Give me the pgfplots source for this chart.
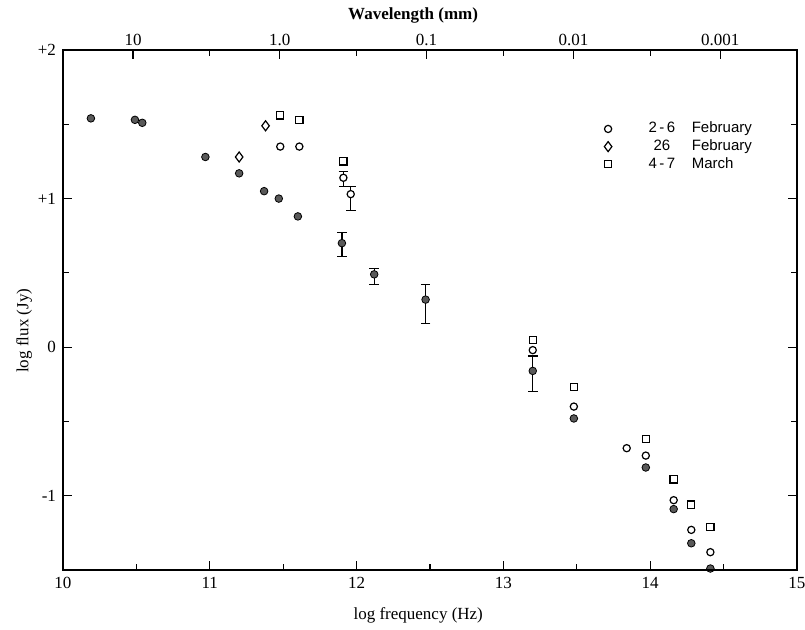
\documentclass[border=0pt]{standalone}
\usepackage{pgfplots}
\pgfplotsset{compat=1.18}
\usepackage{fontspec}
\setmainfont{Liberation Serif}
\newfontfamily\legendfont{Liberation Sans}

\pgfplotsset{
  frame/.style={
    scale only axis, width=367pt, height=260pt,
    xmin=10, xmax=15, ymin=-1.5, ymax=2,
    axis line style={line width=0.8pt},
    tick style={line width=0.6pt, black},
    major tick length=4.5pt, minor tick length=3pt,
    tick align=inside,
    tick label style={font=\fontsize{8.5}{10}\selectfont},
    label style={font=\fontsize{8.5}{10}\selectfont},
  },
  filled/.style={only marks, mark=*, mark size=1.9pt,
    mark options={fill=black!65, draw=black, line width=0.4pt}},
  opencirc/.style={only marks, mark=*, mark size=1.8pt,
    mark options={fill=white, draw=black, line width=0.6pt}},
  opensq/.style={only marks, mark=square*, mark size=1.8pt,
    mark options={fill=white, draw=black, line width=0.6pt}},
  opendia/.style={only marks, mark=diamond*, mark size=2.5pt,
    mark options={fill=white, draw=black, line width=0.6pt}},
  bars/.style={error bars/.cd, y dir=both, y explicit,
    error mark=-,
    error mark options={rotate=90, mark size=2.4pt, line width=0.6pt, black},
    error bar style={line width=0.6pt}, /pgfplots/.cd},
}

\newcommand\epoch[2]{\hspace{17pt}\makebox[1.6em][c]{#1}\hspace{1.2em}#2}

\begin{document}
\begin{tikzpicture}
% bottom / left / right: log frequency and log flux
\begin{axis}[
  frame,
  xtick pos=bottom,
  xtick={10,11,12,13,14,15},
  xticklabels={10,11,12,13,14,15},
  minor xtick={10.5,11.5,12.5,13.5,14.5},
  ytick={-1,0,1,2},
  yticklabels={-1,0,+1,+2},
  minor ytick={-0.5,0.5,1.5},
  xlabel={log frequency (Hz)},
  ylabel={log flux (Jy)},
  xlabel style={at={(axis description cs:0.484,-0.087)}, anchor=center},
  ylabel style={at={(axis description cs:-0.053,0.46)}, anchor=center},
  legend style={at={(axis cs:13.685,1.545)}, anchor=north west,
    draw=none, fill=none, inner sep=0pt, row sep=-2.1pt,
    font=\legendfont\fontsize{7.5}{9}\selectfont},
  legend cell align=left,
]
% 2-6 February
\addplot[opencirc] coordinates {
  (11.48,1.35) (11.61,1.35) (13.20,-0.02) (13.48,-0.40) (13.84,-0.68)
  (13.97,-0.73) (14.16,-1.03) (14.28,-1.23) (14.41,-1.38)
};
\addlegendentry{\epoch{2\,-\,6}{February}}
% 26 February
\addplot[opendia] coordinates {
  (11.20,1.28) (11.38,1.49)
};
\addlegendentry{\epoch{26}{February}}
% 4-7 March
\addplot[opensq] coordinates {
  (11.48,1.56) (11.61,1.53) (11.91,1.25) (13.20,0.05) (13.48,-0.27)
  (13.97,-0.62) (14.16,-0.89) (14.28,-1.06) (14.41,-1.21)
};
\addlegendentry{\epoch{4\,-\,7}{March}}

% 2-6 February points with error bars
\addplot[forget plot, opencirc, bars] coordinates {
  (11.91,1.14) += (0,0.04) -= (0,0.06)
  (11.96,1.03) += (0,0.05) -= (0,0.11)
};

% earlier epoch (filled)
\addplot[forget plot, filled] coordinates {
  (10.19,1.54) (10.49,1.53) (10.54,1.51) (10.97,1.28) (11.20,1.17)
  (11.37,1.05) (11.47,1.00) (11.60,0.88) (13.48,-0.48) (13.97,-0.81)
  (14.16,-1.09) (14.28,-1.32) (14.41,-1.49)
};
\addplot[forget plot, filled, bars] coordinates {
  (11.90,0.70)  += (0,0.07) -= (0,0.09)
  (12.12,0.49)  += (0,0.04) -= (0,0.07)
  (12.47,0.32)  += (0,0.10) -= (0,0.16)
  (13.20,-0.16) += (0,0.10) -= (0,0.14)
};
\end{axis}

% top: wavelength scale, lambda = c / nu
\begin{axis}[
  frame,
  hide y axis,
  xtick pos=top, xticklabel pos=top,
  xtick={10.477,11.477,12.477,13.477,14.477},
  xticklabels={10,1.0,0.1,0.01,0.001},
  minor xtick={11,12,13,14},
  xlabel={\bfseries Wavelength (mm)},
  xlabel style={at={(axis description cs:0.477,1.067)}, anchor=center},
  xticklabel style={yshift=-1.5pt},
]
\end{axis}

\pgfresetboundingbox
\path[use as bounding box] (-31.5pt,-29.5pt) rectangle (371pt,285pt);
\end{tikzpicture}
\end{document}
